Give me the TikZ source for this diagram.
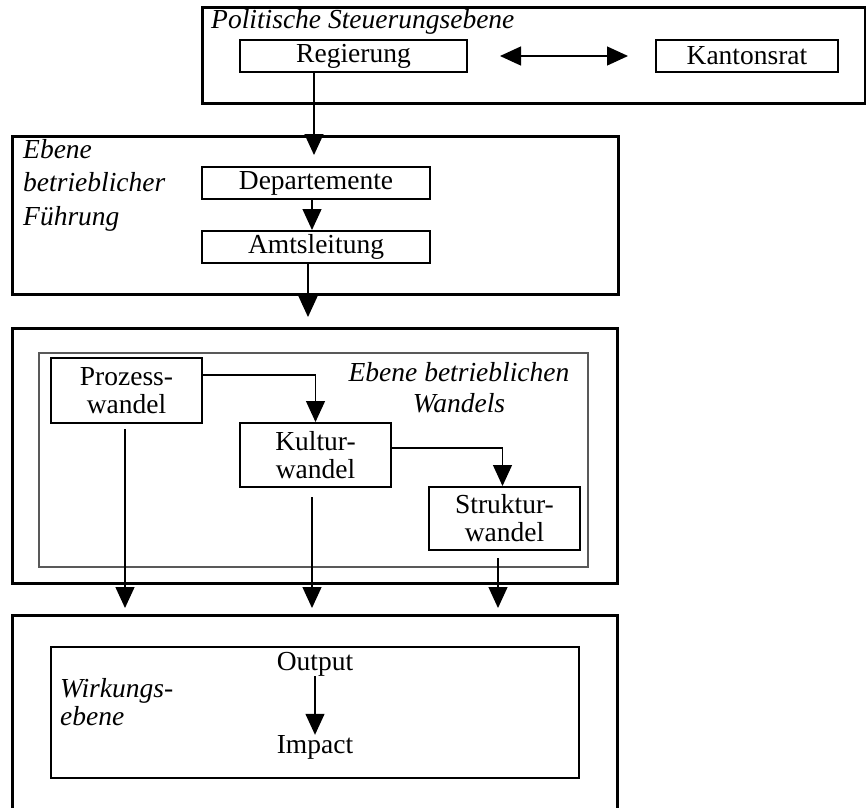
\documentclass[tikz,border=0pt]{standalone}
\usepackage{fontspec}
\setmainfont{Liberation Serif}
\usetikzlibrary{arrows.meta}
\begin{document}
\begin{tikzpicture}[x=1pt,y=-1pt,
  lvl/.style={draw, line width=3pt, inner sep=0pt},
  innerbox/.style={draw, line width=2pt, inner sep=0pt},
  item/.style={draw, line width=2pt, inner sep=0pt, font=\fontsize{27.5}{28}\selectfont, align=center},
  lbl/.style={inner sep=0pt, font=\fontsize{27.5}{33.5}\selectfont\itshape, align=left},
  txt/.style={inner sep=0pt, font=\fontsize{27.5}{28}\selectfont},
  arr/.style={line width=1.3pt, -{Triangle[length=21pt,width=19pt]}},
  darr/.style={line width=1.3pt, {Triangle[length=21pt,width=19pt]}-{Triangle[length=21pt,width=19pt]}}]

\fill[white] (0,0) rectangle (866,807);
\useasboundingbox (0,0) rectangle (866,807);

% ---- Politische Steuerungsebene
\node[lvl, minimum width=663pt, minimum height=96pt] (pol) at (533.5,55) {};
\node[lbl, anchor=base west] (polL) at (211,28) {Politische Steuerungsebene};
\node[item, minimum width=227pt, minimum height=32pt] (reg) at (353.5,56) {Regierung};
\node[item, minimum width=182pt, minimum height=32pt] (kan) at (747,56) {Kantonsrat};
\draw[darr] ([xshift=32pt]reg.east) -- ([xshift=-27pt]kan.west);
\coordinate (r1) at (314,155);
\draw[arr] (reg.south -| r1) -- (r1);

% ---- Ebene betrieblicher Fuehrung
\node[lvl, minimum width=606pt, minimum height=158pt] (fue) at (315,215) {};
\node[lbl, anchor=north west] (fueL) at (23,139) {Ebene\\betrieblicher\\Führung};
\node[item, minimum width=228pt, minimum height=32pt] (dep) at (316,183) {Departemente};
\node[item, minimum width=228pt, minimum height=32pt] (amt) at (316,247) {Amtsleitung};
\draw[arr] ([xshift=-4pt]dep.south) -- ([xshift=-4pt]amt.north);
\coordinate (a1) at (308,317);
\draw[arr] (amt.south -| a1) -- (a1);

% ---- Ebene betrieblichen Wandels
\node[lvl, minimum width=605pt, minimum height=255pt] (wan) at (314.5,455.5) {};
\node[draw=black!65, line width=1.4pt, inner sep=0pt, minimum width=549pt, minimum height=214pt] (wanI) at (313.5,460) {};
\node[lbl, align=center, font=\fontsize{27.5}{31}\selectfont\itshape, anchor=north] (wanL) at (459,362.6) {Ebene betrieblichen\\Wandels};
\node[item, minimum width=151pt, minimum height=65pt] (proz) at (126.5,390.5) {Prozess-\\wandel};
\node[item, minimum width=151pt, minimum height=64pt] (kult) at (315.5,455) {Kultur-\\wandel};
\node[item, minimum width=151pt, minimum height=63pt] (strk) at (504.5,518.5) {Struktur-\\wandel};
\draw[arr] ([yshift=15.5pt]proz.east) -| (kult.north);
\draw[arr] ([yshift=7pt]kult.east) -| ([xshift=-2pt]strk.north);
\coordinate (p1) at (125,608);
\coordinate (k1) at (312,608);
\coordinate (s1) at (498,608);
\draw[arr] ([yshift=-5pt]proz.south -| p1) -- (p1);
\draw[arr] ([yshift=-9pt]kult.south -| k1) -- (k1);
\draw[arr] ([yshift=-7pt]strk.south -| s1) -- (s1);

% ---- Wirkungsebene
\draw[line width=3pt] (12,812) |- (617,615) -- (617,812);
\node[innerbox, minimum width=528pt, minimum height=131pt] (wirI) at (315,712.5) {};
\node[lbl, font=\fontsize{27.5}{28}\selectfont\itshape, anchor=north west] (wirL) at (60,678.6) {Wirkungs-\\ebene};
\node[txt, anchor=base] (out) at (315,670) {Output};
\node[txt, anchor=base] (imp) at (315,753) {Impact};
\draw[arr] (out.south) -- (imp.north);
\end{tikzpicture}
\end{document}
